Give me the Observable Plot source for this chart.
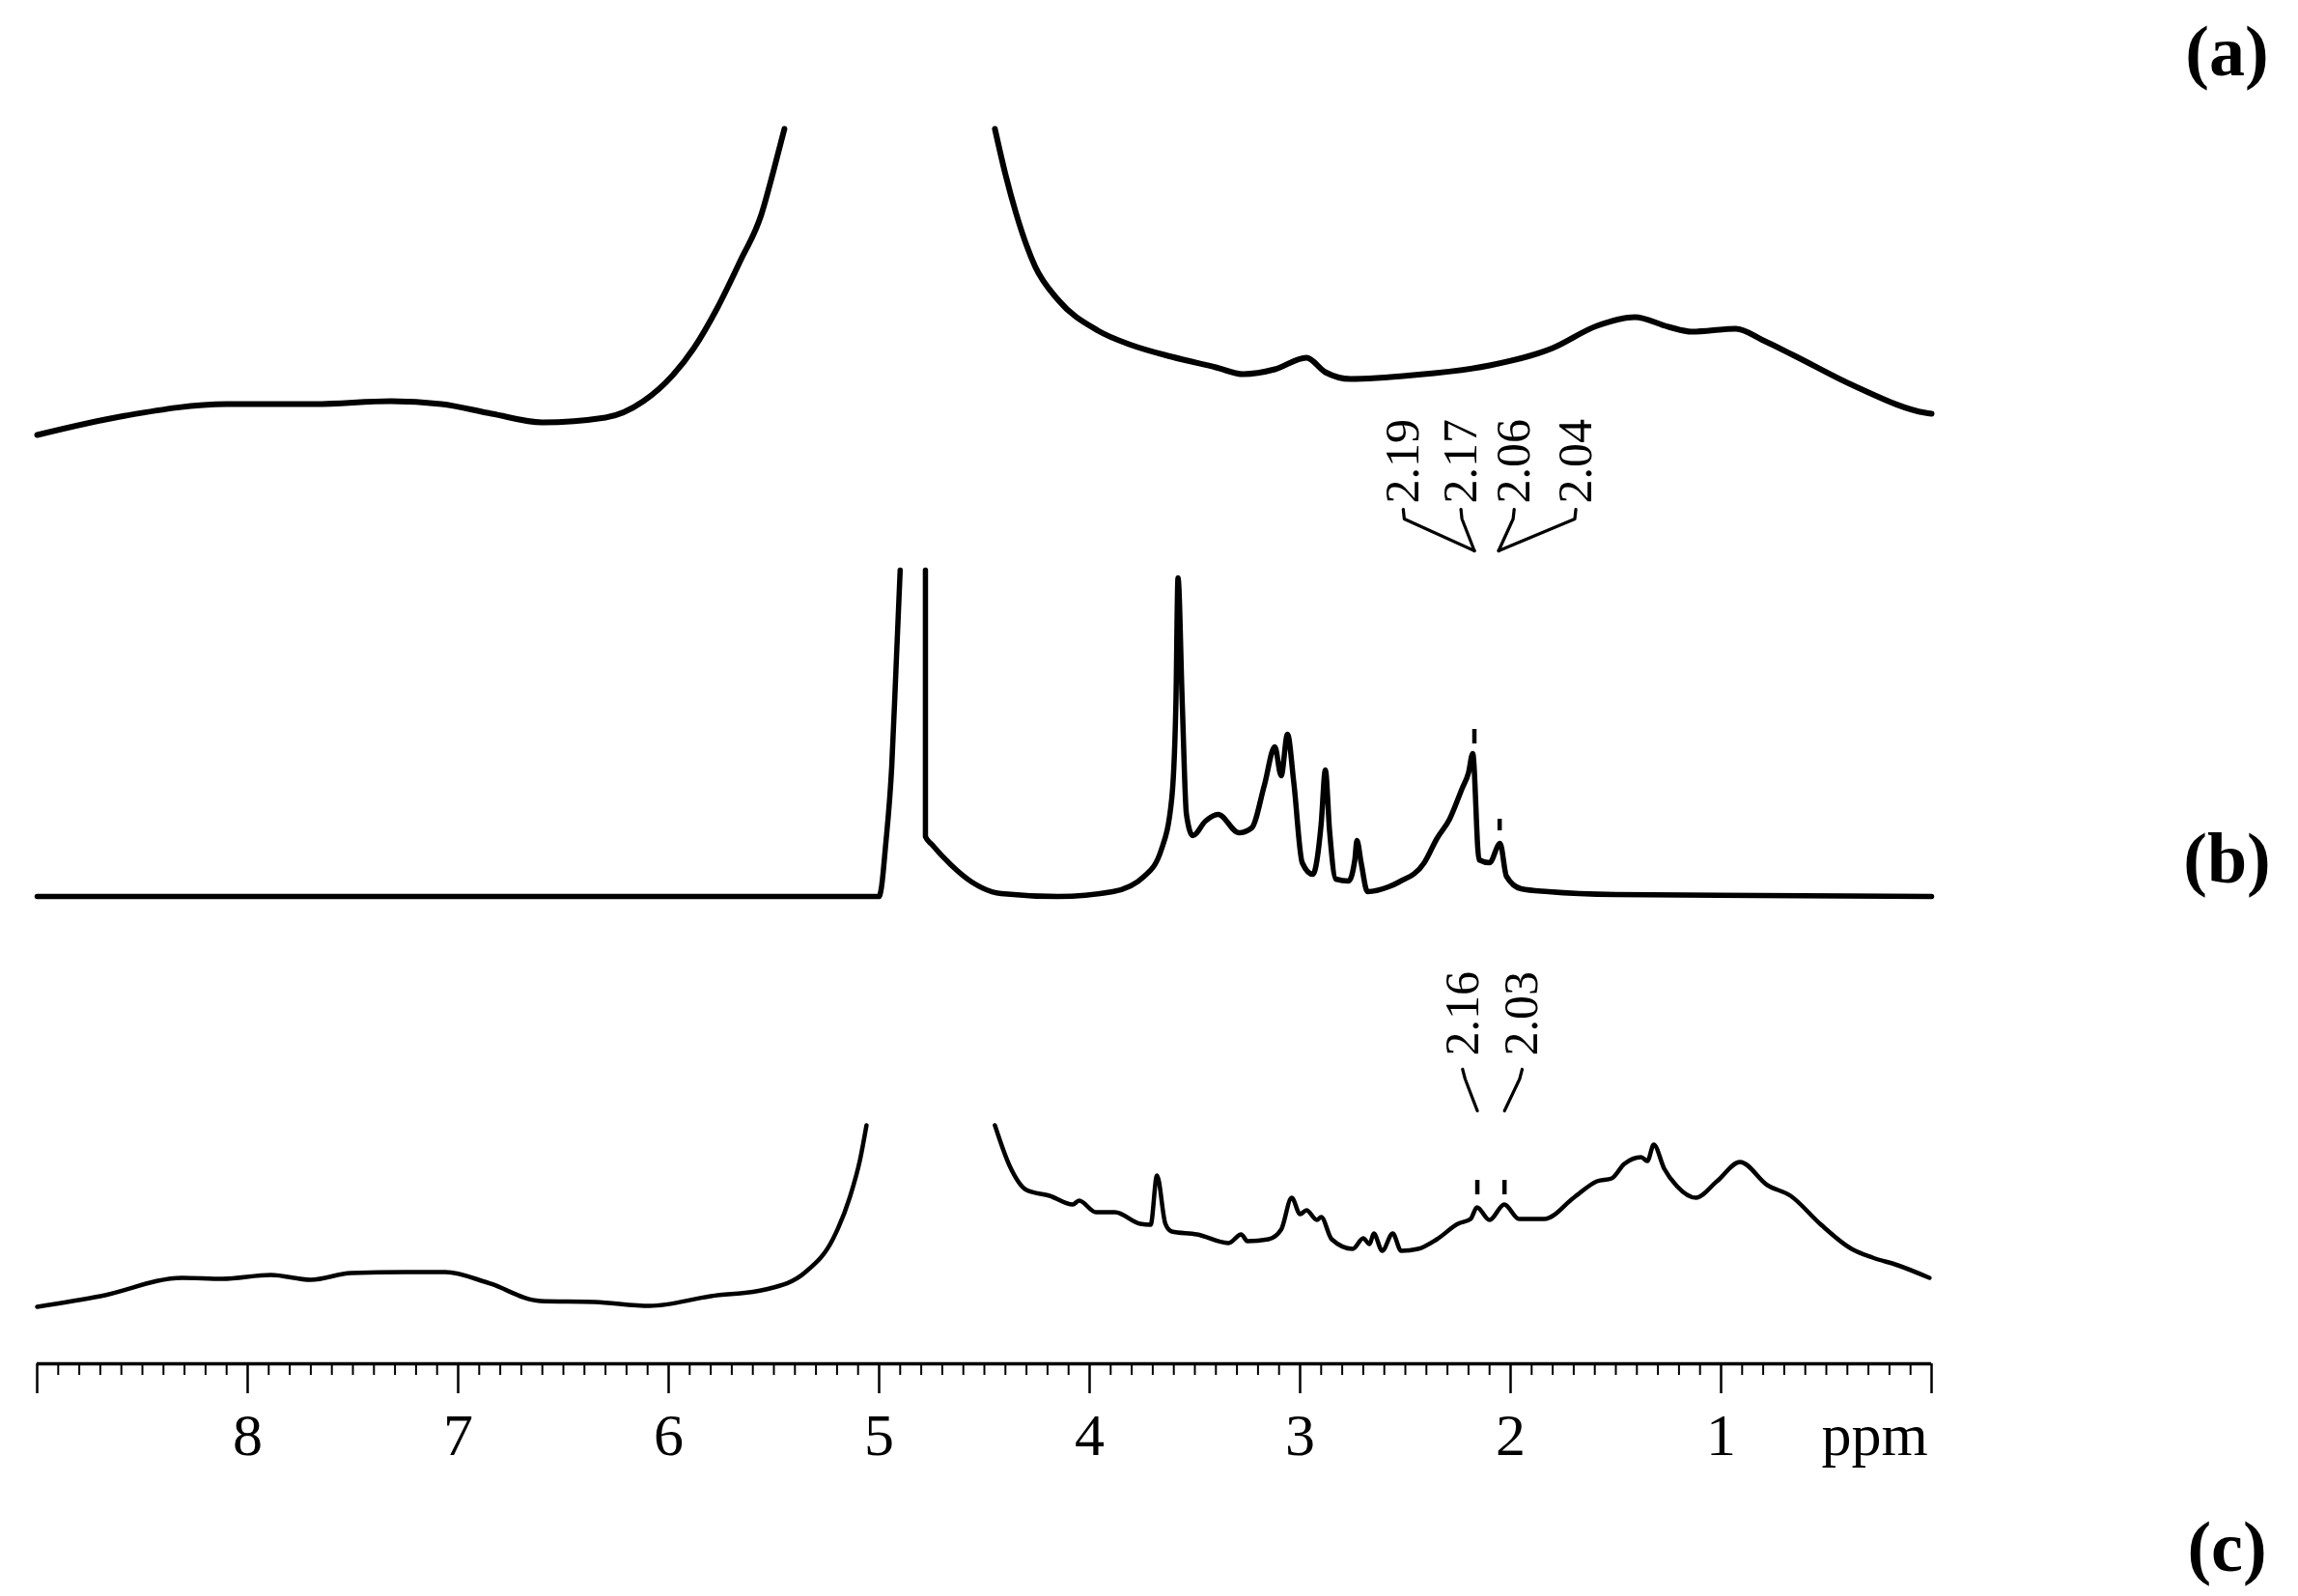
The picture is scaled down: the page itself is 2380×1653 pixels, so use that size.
<!DOCTYPE html>
<html><head><meta charset="utf-8">
<script src="https://cdn.jsdelivr.net/npm/d3@7"></script>
<script src="https://cdn.jsdelivr.net/npm/@observablehq/plot@0.6"></script>
<style>html,body{margin:0;padding:0;background:#fff;} #chart{width:2380px;height:1653px;}</style>
</head><body><div id="chart"></div>
<script>
// Spectrum (a): chemical shift (ppm) and relative intensity; null = truncated water peak
const ppmA = [9.00, 8.58, 8.10, 7.68, 7.32, 7.08, 6.84, 6.60, 6.30, 6.12, 5.98, 5.88, 5.77, 5.66, 5.56, 5.50, 5.45, 5.0,
  4.45, 4.40, 4.35, 4.26, 4.15, 3.96, 3.80, 3.61, 3.40, 3.27, 3.12, 2.97, 2.88, 2.76, 2.46, 2.10, 1.80, 1.59, 1.41, 1.25, 1.14, 0.93, 0.80, 0.66, 0.36, 0.03, 0.00];
const intA = [10, 30, 42, 42, 45, 42, 32, 23, 28, 45, 72, 100, 141, 190, 238, 285, 327, null,
  327, 280, 240, 185, 150, 118, 103, 91, 80, 73, 78, 90, 75, 68, 72, 82, 100, 123, 132, 122, 117, 120, 108, 93, 60, 33, 32];

// Spectrum (b)
const ppmB = [9.00, 5.00, 4.99, 4.97, 4.94, 4.92, 4.90, 4.85,
  4.78, 4.78, 4.75, 4.66, 4.56, 4.42, 4.15, 3.89, 3.74, 3.66, 3.61, 3.59, 3.58, 3.56, 3.54, 3.51, 3.45, 3.39, 3.29, 3.23,
  3.17, 3.12, 3.09, 3.06, 3.03, 2.99, 2.94, 2.90, 2.88, 2.86, 2.83, 2.77, 2.74, 2.73, 2.71, 2.68, 2.58, 2.53, 2.41,
  2.35, 2.29, 2.23, 2.20, 2.18, 2.15, 2.10, 2.05, 2.02, 1.95, 1.82, 1.50, 0.00];
const intB = [0, 0, 8, 51, 135, 235, 338, null,
  338, 62, 54, 33, 15, 3, 0, 5, 21, 48, 101, 201, 330, 201, 85, 63, 78, 85, 66, 71,
  115, 155, 125, 168, 118, 35, 23, 75, 131, 68, 18, 16, 38, 58, 35, 5, 10, 15, 35,
  60, 80, 112, 128, 148, 38, 35, 55, 21, 8, 5, 2, 0];

// Spectrum (c)
const ppmC = [9.00, 8.70, 8.31, 8.12, 7.89, 7.70, 7.51, 7.25, 7.06, 6.86, 6.61, 6.35, 6.09, 5.80, 5.54, 5.35, 5.22, 5.14, 5.09, 5.06, 5.0,
  4.45, 4.38, 4.30, 4.19, 4.08, 4.05, 3.97, 3.88, 3.76, 3.71, 3.68, 3.64, 3.61, 3.49, 3.34, 3.28, 3.25, 3.15, 3.09, 3.04,
  3.00, 2.97, 2.92, 2.90, 2.85, 2.75, 2.70, 2.67, 2.65, 2.61, 2.56, 2.52, 2.44, 2.35, 2.25, 2.19, 2.16, 2.10, 2.03, 1.96,
  1.84, 1.70, 1.59, 1.52, 1.46, 1.38, 1.35, 1.32, 1.27, 1.21, 1.12, 1.02, 0.91, 0.78, 0.67, 0.53, 0.38, 0.28, 0.16, 0.01];
const intC = [7, 18, 37, 36, 40, 35, 42, 43, 43, 32, 13, 12, 8, 18, 25, 43, 77, 120, 160, 195, null,
  195, 153, 128, 122, 113, 117, 105, 105, 93, 92, 143, 93, 85, 82, 73, 82, 75, 77, 87, 120,
  103, 107, 97, 100, 77, 67, 78, 72, 83, 65, 83, 65, 67, 77, 93, 98, 110, 97, 113, 98,
  98, 120, 137, 140, 155, 162, 158, 175, 150, 132, 120, 137, 157, 133, 122, 93, 67, 58, 50, 37];

// Peak-top markers (ppm, low, high intensity)
const markPpmB = [2.172, 2.052];
const markLoB = [158, 68];
const markHiB = [173, 80];
const markPpmC = [2.158, 2.029];
const markLoC = [123, 123];
const markHiC = [138, 138];

// Peak annotations
const labelsB = ["2.19", "2.17", "2.06", "2.04"];
const labelPpmB = [2.51, 2.236, 1.983, 1.69];
const tipPpmB = [2.172, 2.172, 2.057, 2.057];
const labelsC = ["2.16", "2.03"];
const labelPpmC = [2.228, 1.945];
const tipPpmC = [2.158, 2.029];

// Axis
const majorTicks = [9, 8, 7, 6, 5, 4, 3, 2, 1, 0];
const tickLabels = ["", "8", "7", "6", "5", "4", "3", "2", "1", ""];
const minorTicks = d3.range(0, 90).filter(i => i % 10 !== 0).map(i => i / 10);
const panelLabels = ["(a)", "(b)", "(c)"];

// layout offsets (stacking of the three traces)
const offA = 952, offB = 484, offC = 52;

const toRows = (ppm, v, off) => ppm.map((p, i) => ({ppm: p, y: v[i] == null ? NaN : off + v[i]}));
const rowsA = toRows(ppmA, intA, offA);
const rowsB = toRows(ppmB, intB, offB);
const rowsC = toRows(ppmC, intC, offC);

const marks = [
  ...markPpmB.map((p, i) => ({ppm: p, y1: offB + markLoB[i], y2: offB + markHiB[i]})),
  ...markPpmC.map((p, i) => ({ppm: p, y1: offC + markLoC[i], y2: offC + markHiC[i]}))
];

const links = [];
labelsB.forEach((l, i) => {
  links.push({id: "b" + i, ppm: labelPpmB[i], y: offB + 401});
  links.push({id: "b" + i, ppm: labelPpmB[i] - 0.005 * Math.sign(labelPpmB[i] - tipPpmB[i]), y: offB + 391});
  links.push({id: "b" + i, ppm: tipPpmB[i], y: offB + 358});
});
labelsC.forEach((l, i) => {
  links.push({id: "c" + i, ppm: labelPpmC[i], y: offC + 253});
  links.push({id: "c" + i, ppm: labelPpmC[i] - 0.012 * Math.sign(labelPpmC[i] - tipPpmC[i]), y: offC + 243});
  links.push({id: "c" + i, ppm: tipPpmC[i], y: offC + 210});
});
const annots = [
  ...labelsB.map((t, i) => ({t, ppm: labelPpmB[i], y: offB + 407})),
  ...labelsC.map((t, i) => ({t, ppm: labelPpmC[i], y: offC + 267}))
];

const serif = "Liberation Serif, Times New Roman, serif";
const panelText = (label, dy) => Plot.text([label], {text: d => d, frameAnchor: "top-right", dx: 306, dy,
  textAnchor: "middle", lineAnchor: "middle", fontSize: 74, fontWeight: "bold", fill: "#000"});

const plot = Plot.plot({
  width: 2380, height: 1653,
  marginLeft: 38, marginRight: 380, marginTop: 0, marginBottom: 241,
  style: {fontFamily: serif, background: "#fff", color: "#000"},
  x: {domain: [9, 0], axis: null},
  y: {domain: [0, 1412], axis: null},
  marks: [
    Plot.ruleY([0], {stroke: "#000", strokeWidth: 3.5}),
    Plot.axisX({ticks: majorTicks, tickSize: 31, tickPadding: 19, strokeWidth: 2.5, label: null,
      tickFormat: d => tickLabels[majorTicks.indexOf(d)], fontSize: 62, fill: "#000"}),
    Plot.axisX({ticks: minorTicks, tickSize: 12, strokeWidth: 2, label: null, tickFormat: () => ""}),
    Plot.text(["ppm"], {x: () => 0.27, frameAnchor: "bottom", lineAnchor: "top", dy: 50, fontSize: 62, fill: "#000"}),
    Plot.line(rowsA, {x: "ppm", y: "y", stroke: "#000", strokeWidth: 6, strokeLinejoin: "round", curve: "monotone-x"}),
    Plot.line(rowsB, {x: "ppm", y: "y", stroke: "#000", strokeWidth: 5.5, strokeLinejoin: "round", curve: "monotone-x"}),
    Plot.line(rowsC, {x: "ppm", y: "y", stroke: "#000", strokeWidth: 4.5, strokeLinejoin: "round", curve: "monotone-x"}),
    Plot.ruleX(marks, {x: "ppm", y1: "y1", y2: "y2", stroke: "#000", strokeWidth: 4.5}),
    Plot.line(links, {x: "ppm", y: "y", z: "id", stroke: "#000", strokeWidth: 3.2, strokeLinejoin: "round"}),
    Plot.text(annots, {x: "ppm", y: "y", text: "t", rotate: -90, textAnchor: "start", lineAnchor: "middle", fontSize: 50, fill: "#000"}),
    panelText(panelLabels[0], 54),
    panelText(panelLabels[1], 890),
    panelText(panelLabels[2], 1603)
  ]
});
document.getElementById("chart").appendChild(plot);
</script>
</body></html>
